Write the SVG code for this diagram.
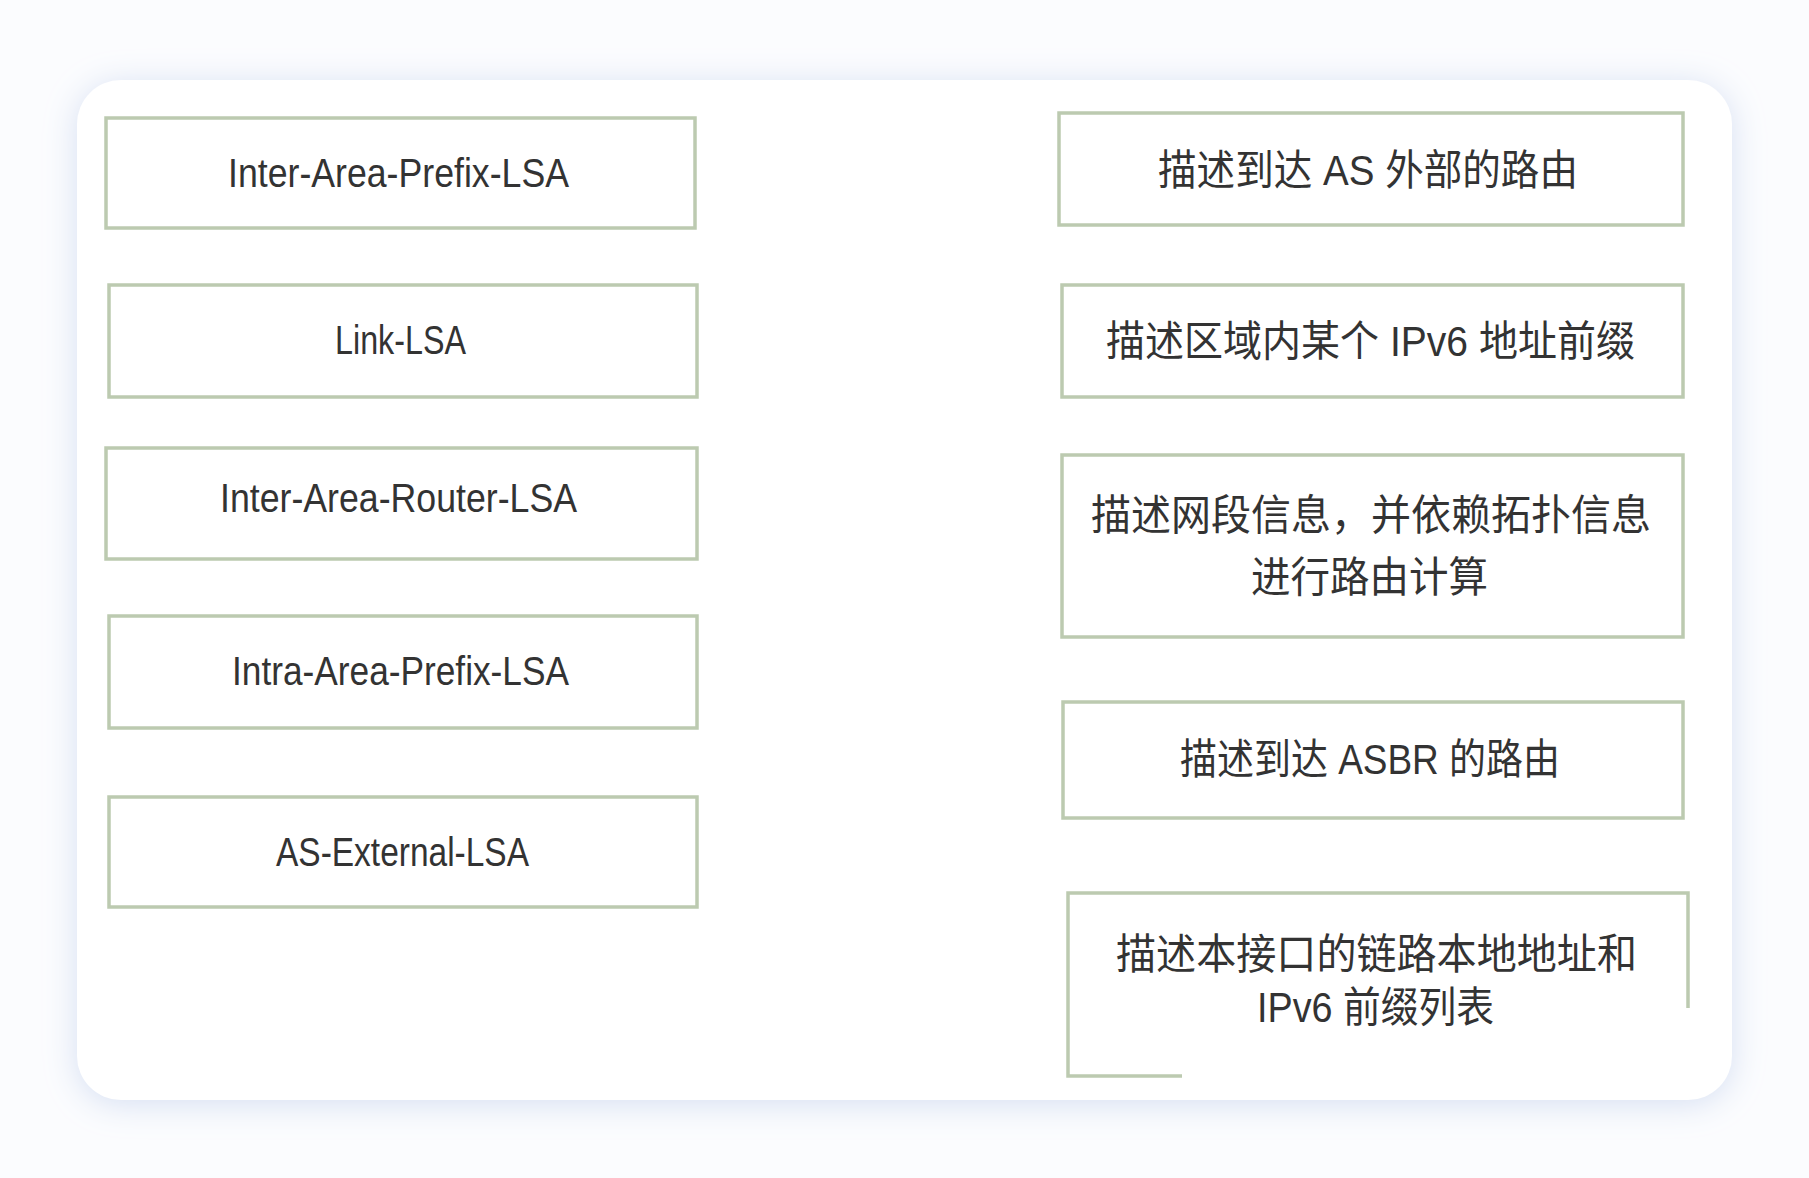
<svg xmlns="http://www.w3.org/2000/svg" width="1809" height="1178" viewBox="0 0 1809 1178">
<defs>
<style>
.box{fill:#ffffff;stroke:#bccab0;stroke-width:3.5}
.en{font-family:"Liberation Sans","DejaVu Sans",sans-serif;font-size:40px;fill:#333333}
.zh{font-family:"Liberation Sans","Noto Sans CJK SC",sans-serif;font-size:42px;fill:#333333}
</style>
<filter id="sh" x="-10%" y="-10%" width="120%" height="120%">
<feDropShadow dx="0" dy="4" stdDeviation="16" flood-color="#d6dff2" flood-opacity="1"/>
</filter>
</defs>
<rect x="0" y="0" width="1809" height="1178" fill="#fbfcfe"/>
<rect x="77" y="80" width="1655" height="1020" rx="44" fill="#ffffff" filter="url(#sh)"/>
<g id="connectors"></g>
<g id="n-inter-area-prefix">
<rect class="box" x="106" y="118" width="589" height="110"/>
<text class="en" x="228" y="187" textLength="341" lengthAdjust="spacingAndGlyphs">Inter-Area-Prefix-LSA</text>
</g>
<g id="n-link">
<rect class="box" x="109" y="285" width="588" height="112"/>
<text class="en" x="335" y="354" textLength="131" lengthAdjust="spacingAndGlyphs">Link-LSA</text>
</g>
<g id="n-inter-area-router">
<rect class="box" x="106" y="448" width="591" height="111"/>
<text class="en" x="220" y="512" textLength="357" lengthAdjust="spacingAndGlyphs">Inter-Area-Router-LSA</text>
</g>
<g id="n-intra-area-prefix">
<rect class="box" x="109" y="616" width="588" height="112"/>
<text class="en" x="232" y="685" textLength="337" lengthAdjust="spacingAndGlyphs">Intra-Area-Prefix-LSA</text>
</g>
<g id="n-as-external">
<rect class="box" x="109" y="797" width="588" height="110"/>
<text class="en" x="276" y="866" textLength="253" lengthAdjust="spacingAndGlyphs">AS-External-LSA</text>
</g>
<g id="d-as-external">
<rect class="box" x="1059" y="113" width="624" height="112"/>
<text class="zh" x="1158" y="185" textLength="420" lengthAdjust="spacingAndGlyphs">描述到达 AS 外部的路由</text>
</g>
<g id="d-intra-area-prefix">
<rect class="box" x="1062" y="285" width="621" height="112"/>
<text class="zh" x="1106" y="356" textLength="529" lengthAdjust="spacingAndGlyphs">描述区域内某个 IPv6 地址前缀</text>
</g>
<g id="d-router">
<rect class="box" x="1062" y="455" width="621" height="182"/>
<text class="zh" x="1091" y="530" textLength="560" lengthAdjust="spacingAndGlyphs">描述网段信息，并依赖拓扑信息</text>
<text class="zh" x="1251" y="592" textLength="237" lengthAdjust="spacingAndGlyphs">进行路由计算</text>
</g>
<g id="d-asbr">
<rect class="box" x="1063" y="702" width="620" height="116"/>
<text class="zh" x="1180" y="774" textLength="380" lengthAdjust="spacingAndGlyphs">描述到达 ASBR 的路由</text>
</g>
<g id="d-link">
<path d="M1688 1008 V893 H1068 V1076 H1182" fill="none" stroke="#bccab0" stroke-width="3.5"/>
<text class="zh" x="1116" y="969" textLength="521" lengthAdjust="spacingAndGlyphs">描述本接口的链路本地地址和</text>
<text class="zh" x="1257" y="1022" textLength="237" lengthAdjust="spacingAndGlyphs">IPv6 前缀列表</text>
</g>
</svg>
